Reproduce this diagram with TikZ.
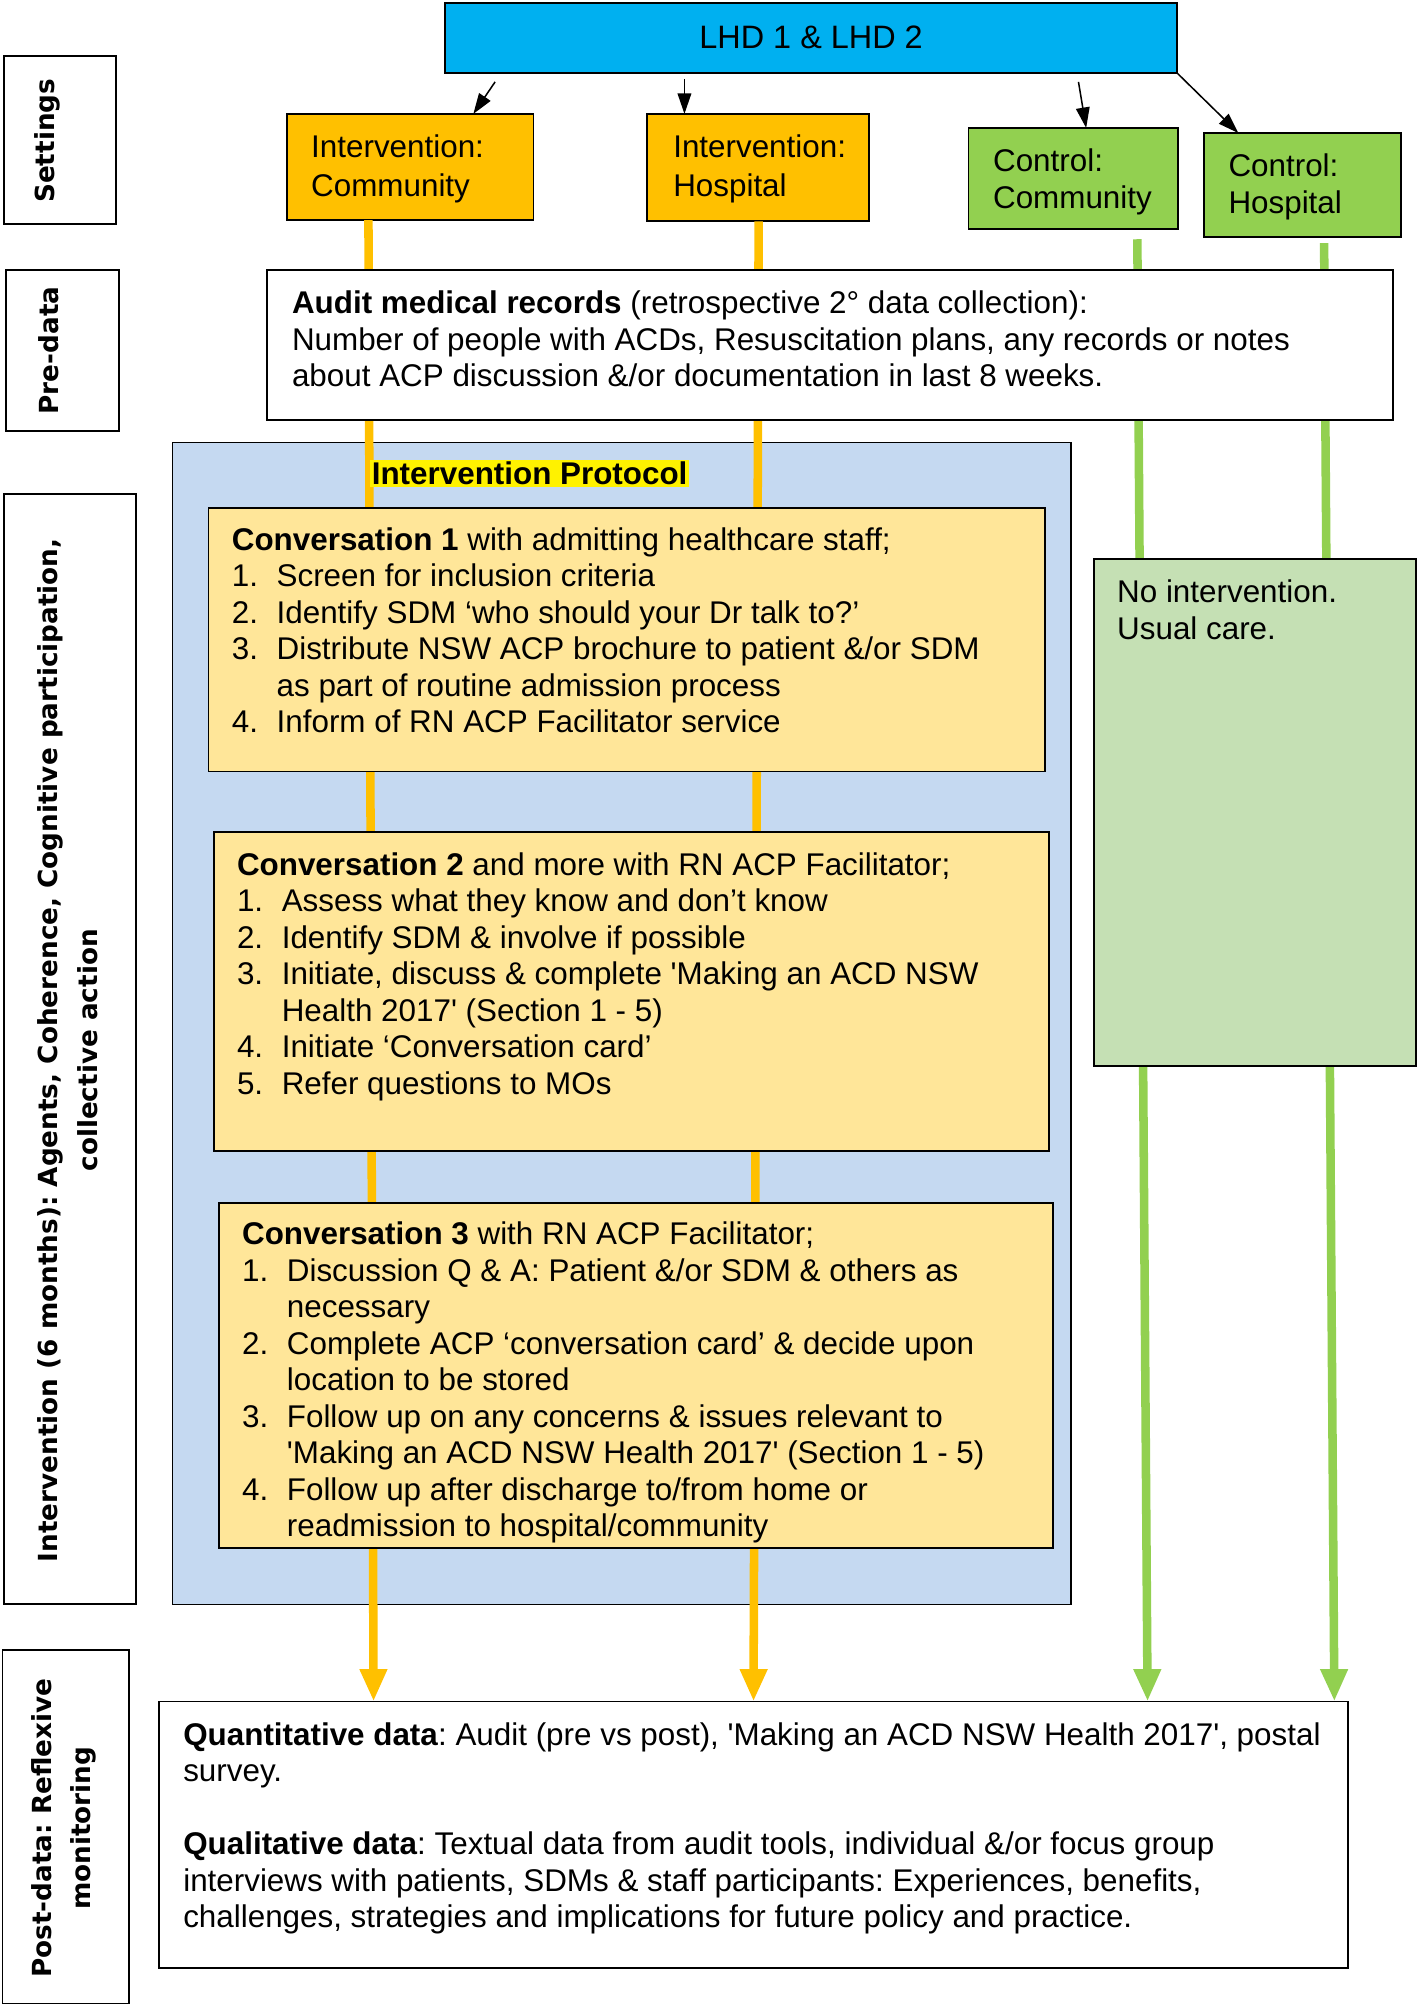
\documentclass[tikz,border=0pt]{standalone}
\usepackage{fontspec}
\setmainfont{Liberation Sans}
\newfontfamily\labelfont{DejaVu Sans}
\usetikzlibrary{arrows.meta,calc}
\definecolor{cyanbox}{HTML}{00B0F0}
\definecolor{iorange}{HTML}{FFC000}
\definecolor{cgreen}{HTML}{92D050}
\definecolor{lorange}{HTML}{FFE699}
\definecolor{lblue}{HTML}{C5D9F1}
\definecolor{lgreen}{HTML}{C5E0B4}
\newcommand{\itm}[1]{\makebox[26.25pt][l]{#1}}
\newcommand{\cnt}{\hspace*{26.25pt}}
\frenchspacing
\begin{document}
\begin{tikzpicture}[x=0.75pt,y=-0.75pt,
  every node/.style={font=\fontsize{18.4}{21.4}\selectfont},
  box/.style={draw=black, line width=1.1pt},
  wh/.style 2 args={anchor=north west, minimum width={#1*0.75pt}, minimum height={#2*0.75pt}, inner sep=0pt, outer sep=0pt},
  txt/.style={anchor=north west, inner sep=0pt, align=left},
  sidelabel/.style={rotate=90, align=center, font=\labelfont\bfseries\fontsize{15.4}{23}\selectfont},
  blk/.style={draw=black, line width=0.9pt, -{Triangle[width=8pt,length=12pt]}},
  oline/.style={draw=iorange, line width=5pt, -{Triangle[width=15pt,length=19pt]}},
  gline/.style={draw=cgreen, line width=5pt, -{Triangle[width=15pt,length=19pt]}}
]
\useasboundingbox (0,0) rectangle (1108,1568);

% side labels
\node[box, wh={88}{131}] (lset) at (3,44) {};
\node[sidelabel] (lsett) at (37,110) {Settings};
\node[box, wh={88}{126}] (lpre) at (5,211) {};
\node[sidelabel] (lpret) at (38,274) {Pre-data};
\node[box, wh={103}{868}] (lint) at (3,386) {};
\node[sidelabel] (lintt) at (53,821) {Intervention (6 months): Agents, Coherence, Cognitive participation,\\collective action};
\node[box, wh={99}{276}] (lpost) at (2,1290) {};
\node[sidelabel] (lpostt) at (50,1429) {Post-data: Reflexive\\monitoring};

% top box
\node[box, fill=cyanbox, wh={572}{55}, font=\fontsize{19}{22}\selectfont] (lhd) at (348,2) {LHD 1 \& LHD 2};

% settings boxes
\node[box, fill=iorange, wh={193}{83}] (ic) at (224,89) {};
\node[txt] (ict) at (243,105) {Intervention:\\[1.5pt]Community};
\node[box, fill=iorange, wh={173}{84}] (ih) at (506,89) {};
\node[txt] (iht) at (526,105) {Intervention:\\[1.5pt]Hospital};
\node[box, fill=cgreen, wh={164}{79}] (cc) at (757,100) {};
\node[txt] (cct) at (776,116) {Control:\\Community};
\node[box, fill=cgreen, wh={154}{81}] (ch) at (941,104) {};
\node[txt] (cht) at (960,120) {Control:\\Hospital};

% arrows from LHD
\coordinate (a1s) at (387,64);
\coordinate (a2s) at (535,62);
\coordinate (a3s) at (843,64);
\draw[blk] (a1s) -- ($(ic.north west)+(146,0)$);
\draw[blk] (a2s) -- ($(ih.north west)+(29,0)$);
\draw[blk] (a3s) -- ($(cc.north west)+(92,0)$);
\draw[blk] (lhd.south east) -- ($(ch.north west)+(27,0)$);

% intervention protocol background
\node[box, fill=lblue, wh={702}{908}, line width=0.9pt] (proto) at (135,346) {};

% post box (placed for named ends)
\node[box, fill=white, wh={930}{208}] (post) at (124,1330) {};

% connectors
\draw[oline] ($(ic.south west)+(64,0)$) -- ($(post.north west)+(168,0)$);
\draw[oline] ($(ih.south west)+(87,0)$) -- ($(post.north west)+(465,0)$);
\draw[gline] ($(cc.south west)+(132,8)$) -- ($(post.north west)+(773,0)$);
\draw[gline] ($(ch.south west)+(94,5)$) -- ($(post.north west)+(919,0)$);

% pre-data box
\node[box, fill=white, wh={880}{117}] (pre) at (209,211) {};
\node[txt] (pret) at (228,227) {\textbf{Audit medical records} (retrospective 2° data collection):\\
Number of people with ACDs, Resuscitation plans, any records or notes\\
about ACP discussion \&/or documentation in last 8 weeks.};

% protocol label
\node[fill=yellow, inner sep=1pt, font=\bfseries\fontsize{18.4}{21.4}\selectfont] (plab) at (414,370) {Intervention Protocol};

% conversation 1
\node[box, fill=lorange, wh={654}{206}] (c1) at (163,397) {};
\node[txt] (c1t) at (181,412) {\textbf{Conversation 1} with admitting healthcare staff;\\
\itm{1.}Screen for inclusion criteria\\
\itm{2.}Identify SDM ‘who should your Dr talk to?’\\
\itm{3.}Distribute NSW ACP brochure to patient \&/or SDM\\
\cnt as part of routine admission process\\
\itm{4.}Inform of RN ACP Facilitator service};

% conversation 2
\node[box, fill=lorange, wh={653}{250}] (c2) at (167,650) {};
\node[txt] (c2t) at (185,666) {\textbf{Conversation 2} and more with RN ACP Facilitator;\\
\itm{1.}Assess what they know and don’t know\\
\itm{2.}Identify SDM \& involve if possible\\
\itm{3.}Initiate, discuss \& complete \textquotesingle Making an ACD NSW\\
\cnt Health 2017\textquotesingle{} (Section 1 - 5)\\
\itm{4.}Initiate ‘Conversation card’\\
\itm{5.}Refer questions to MOs};

% conversation 3
\node[box, fill=lorange, wh={652}{270}] (c3) at (171,940) {};
\node[txt] (c3t) at (189,955) {\textbf{Conversation 3} with RN ACP Facilitator;\\
\itm{1.}Discussion Q \& A: Patient \&/or SDM \& others as\\
\cnt necessary\\
\itm{2.}Complete ACP ‘conversation card’ \& decide upon\\
\cnt location to be stored\\
\itm{3.}Follow up on any concerns \& issues relevant to\\
\cnt\textquotesingle Making an ACD NSW Health 2017\textquotesingle{} (Section 1 - 5)\\
\itm{4.}Follow up after discharge to/from home or\\
\cnt readmission to hospital/community};

% control usual care
\node[box, fill=lgreen, wh={252}{396}] (usual) at (855,437) {};
\node[txt] (usualt) at (873,453) {No intervention.\\Usual care.};

% post text
\node[txt] (postt) at (143,1346) {\textbf{Quantitative data}: Audit (pre vs post), \textquotesingle Making an ACD NSW Health 2017\textquotesingle, postal\\
survey.\\[21.4pt]
\textbf{Qualitative data}: Textual data from audit tools, individual \&/or focus group\\
interviews with patients, SDMs \& staff participants: Experiences, benefits,\\
challenges, strategies and implications for future policy and practice.};
\end{tikzpicture}
\end{document}
